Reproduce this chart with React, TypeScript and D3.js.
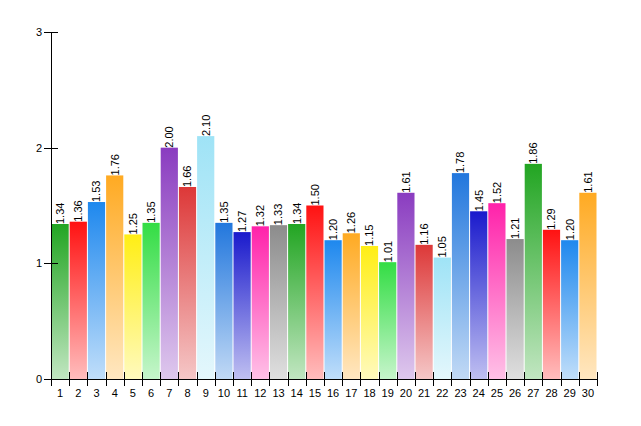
import React from "react";
import * as d3 from "d3";

const categories = Array.from({ length: 30 }, (_, i) => String(i + 1));
const values = [
  1.34, 1.36, 1.53, 1.76, 1.25, 1.35, 2.0, 1.66, 2.1, 1.35,
  1.27, 1.32, 1.33, 1.34, 1.5, 1.2, 1.26, 1.15, 1.01, 1.61,
  1.16, 1.05, 1.78, 1.45, 1.52, 1.21, 1.86, 1.29, 1.2, 1.61,
];
const palette = [
  "#22a522", "#ff1212", "#1e88ee", "#ffaa22", "#ffee14", "#33dd44", "#8a3cc0",
  "#dd3838", "#9fe3f6", "#2277dd", "#1a1acc", "#ff22aa", "#8c8c8c",
];
const yTicks = [0, 1, 2, 3];

export default function App() {
  const W = 641, H = 426;
  const left = 51, right = 597, top = 32, bottom = 379;
  const x = d3.scaleBand<string>().domain(categories).range([left, right]).padding(0);
  const y = d3.scaleLinear().domain([0, 3]).range([bottom, top]);
  const bw = x.bandwidth();
  const light = (c: string) => d3.interpolateRgb(c, "#ffffff")(0.72);
  const font = "Liberation Sans, Arial, sans-serif";

  return (
    <svg width={W} height={H} style={{ position: "absolute", left: 0, top: 0 }}>
      <defs>
        {palette.map((c, i) => (
          <linearGradient key={i} id={`g${i}`} x1="0" y1="0" x2="0" y2="1">
            <stop offset="0" stopColor={c} />
            <stop offset="1" stopColor={light(c)} />
          </linearGradient>
        ))}
      </defs>
      <rect width={W} height={H} fill="#fff" />
      {values.map((v, i) => {
        const x0 = x(categories[i])!;
        return (
          <rect
            key={i}
            x={x0 + 0.5}
            y={y(v)}
            width={bw - 1}
            height={bottom - y(v)}
            fill={`url(#g${i % palette.length})`}
          />
        );
      })}
      {values.map((v, i) => {
        const cx = x(categories[i])! + bw / 2;
        const ty = y(v);
        return (
          <text
            key={i}
            transform={`translate(${cx},${ty}) rotate(-90)`}
            dy="0.35em"
            fontSize={11}
            fontFamily={font}
            fill="#000"
          >
            {v.toFixed(2)}
          </text>
        );
      })}
      {/* axes */}
      <line x1={left + 0.5} x2={left + 0.5} y1={top} y2={bottom} stroke="#000" />
      <line x1={left} x2={right + 0.5} y1={bottom + 0.5} y2={bottom + 0.5} stroke="#000" />
      {yTicks.map((t) => (
        <g key={t}>
          <line x1={left - 7} x2={left + 7} y1={Math.round(y(t)) + 0.5} y2={Math.round(y(t)) + 0.5} stroke="#000" />
          <text x={42} y={y(t)} dy="0.35em" textAnchor="end" fontSize={11} fontFamily={font}>
            {t}
          </text>
        </g>
      ))}
      {d3.range(categories.length + 1).map((i) => {
        const xx = Math.round(left + i * bw) + 0.5;
        return <line key={i} x1={xx} x2={xx} y1={bottom - 7} y2={bottom + 7} stroke="#000" />;
      })}
      {categories.map((c) => (
        <text
          key={c}
          x={x(c)! + bw / 2}
          y={393}
          dy="0.35em"
          textAnchor="middle"
          fontSize={11}
          fontFamily={font}
        >
          {c}
        </text>
      ))}
    </svg>
  );
}
